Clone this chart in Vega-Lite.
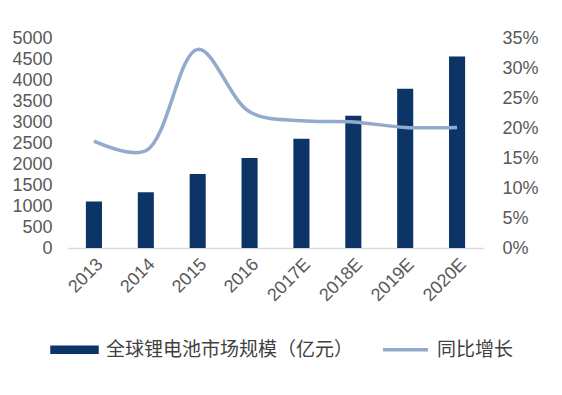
{
  "$schema": "https://vega.github.io/schema/vega-lite/v6.json",
  "autosize": {"type": "none"},
  "width": 415,
  "height": 210,
  "padding": {"left": 68, "top": 38, "right": 79, "bottom": 147},
  "background": "white",
  "config": {
    "view": {"stroke": null},
    "axis": {"labelFont": "Liberation Sans", "labelFontSize": 18, "labelColor": "#595959", "grid": false, "ticks": false, "tickSize": 0, "title": null},
    "legend": {"labelFont": "Noto Sans CJK SC", "labelFontSize": 19, "labelColor": "#404040", "labelLimit": 400}
  },
  "data": {
    "values": [
      {"year": "2013", "size": 1110, "growth": 17.8},
      {"year": "2014", "size": 1330, "growth": 16.2},
      {"year": "2015", "size": 1760, "growth": 33.1},
      {"year": "2016", "size": 2140, "growth": 22.7},
      {"year": "2017E", "size": 2600, "growth": 21.2},
      {"year": "2018E", "size": 3150, "growth": 21.0},
      {"year": "2019E", "size": 3790, "growth": 20.1},
      {"year": "2020E", "size": 4560, "growth": 20.1}
    ]
  },
  "encoding": {
    "x": {
      "field": "year", "type": "ordinal", "sort": null,
      "scale": {"paddingInner": 0.69, "paddingOuter": 0.345},
      "axis": {"labelAngle": -45, "labelPadding": 7, "domain": true, "domainColor": "#d9d9d9", "domainWidth": 1.5}
    }
  },
  "layer": [
    {
      "mark": {"type": "bar", "color": "#0c3466"},
      "encoding": {
        "y": {
          "field": "size", "type": "quantitative",
          "scale": {"domain": [0, 5000], "nice": false},
          "axis": {"values": [0, 500, 1000, 1500, 2000, 2500, 3000, 3500, 4000, 4500, 5000], "format": "d", "domain": false, "labelPadding": 16}
        },
        "color": {
          "datum": "全球锂电池市场规模（亿元）",
          "scale": {"domain": ["全球锂电池市场规模（亿元）", "同比增长"], "range": ["#0c3466", "#93aacc"]},
          "legend": {
            "title": null,
            "orient": "none",
            "direction": "horizontal",
            "legendX": -18,
            "legendY": 287,
            "symbolSize": 2025,
            "labelOffset": 7,
            "columnPadding": 22,
            "encode": {
              "symbols": {
                "update": {
                  "shape": {"signal": "datum.value === '同比增长' ? 'M-1,0H1' : 'M-1,-0.11H1V0.11H-1Z'"},
                  "fill": {"signal": "datum.value === '同比增长' ? 'transparent' : '#0c3466'"},
                  "stroke": {"signal": "datum.value === '同比增长' ? '#93aacc' : 'transparent'"},
                  "strokeWidth": {"value": 3.5},
                  "opacity": {"value": 1}
                }
              }
            }
          }
        }
      }
    },
    {
      "mark": {"type": "line", "interpolate": "catmull-rom", "strokeWidth": 3.5, "color": "#93aacc"},
      "encoding": {
        "y": {
          "field": "growth", "type": "quantitative",
          "scale": {"domain": [0, 35], "nice": false},
          "axis": {"orient": "right", "values": [0, 5, 10, 15, 20, 25, 30, 35], "labelExpr": "datum.value + '%'", "domain": false, "labelPadding": 19}
        },
        "color": {"datum": "同比增长"}
      }
    }
  ],
  "resolve": {"scale": {"y": "independent"}}
}
